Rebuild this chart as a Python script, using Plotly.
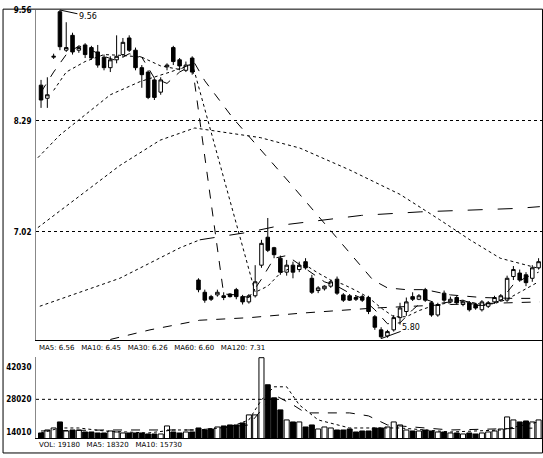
import plotly.graph_objects as go

# ---------------- data ----------------
opens = [8.70,8.55,9.02,9.54,9.10,9.27,9.10,9.16,9.13,9.08,
         9.02,8.90,8.99,9.05,9.24,9.10,8.90,8.85,8.76,8.62,
         8.91,9.13,8.99,8.87,9.01,
         6.47,6.33,6.28,6.30,6.29,6.31,6.36,6.28,6.22,6.29,
         6.64,6.96,6.84,6.72,6.56,6.64,6.59,6.68,6.49,6.35,
         6.37,6.40,6.48,6.30,6.29,6.27,6.28,6.27,6.05,5.90,
         5.83,5.90,6.04,6.11,6.28,6.25,6.36,6.21,6.07,6.32,
         6.22,6.27,6.19,6.21,6.19,6.13,6.17,6.22,6.24,6.24,
         6.51,6.55,6.53,6.49,6.61]
closes = [8.53,8.59,9.03,9.14,9.13,9.08,9.13,9.05,9.01,8.93,
          8.90,8.99,9.03,9.19,9.10,8.90,8.82,8.56,8.56,8.76,
          8.93,8.97,8.92,8.93,8.85,
          6.36,6.24,6.25,6.33,6.27,6.28,6.28,6.22,6.29,6.45,
          6.89,6.81,6.76,6.56,6.64,6.56,6.64,6.61,6.33,6.38,
          6.40,6.45,6.32,6.24,6.24,6.25,6.24,6.11,5.93,5.82,
          5.88,6.04,6.15,6.22,6.25,6.29,6.24,6.07,6.19,6.24,
          6.25,6.21,6.22,6.13,6.15,6.22,6.21,6.27,6.29,6.49,
          6.59,6.47,6.44,6.61,6.68]
highs = [8.76,8.79,9.06,9.56,9.42,9.30,9.15,9.18,9.15,9.16,
         9.05,9.03,9.27,9.24,9.27,9.13,8.93,8.87,8.78,8.79,
         8.95,9.15,9.01,8.97,9.03,
         6.49,6.36,6.30,6.36,6.33,6.32,6.38,6.30,6.31,6.64,
         6.93,7.18,6.85,6.75,6.70,6.68,6.68,6.72,6.53,6.40,
         6.41,6.47,6.51,6.32,6.31,6.29,6.30,6.29,6.07,5.93,
         5.90,6.07,6.21,6.27,6.33,6.31,6.38,6.23,6.21,6.35,
         6.28,6.29,6.24,6.23,6.21,6.24,6.23,6.29,6.31,6.52,
         6.63,6.59,6.56,6.64,6.72]
lows = [8.44,8.44,9.00,9.10,9.08,9.05,9.07,9.01,8.99,8.90,
        8.87,8.85,8.95,9.02,9.08,8.87,8.67,8.54,8.53,8.59,
        8.87,8.93,8.87,8.85,8.82,
        6.33,6.21,6.23,6.28,6.24,6.27,6.25,6.19,6.20,6.27,
        6.61,6.79,6.72,6.53,6.52,6.49,6.56,6.59,6.31,6.32,
        6.35,6.38,6.30,6.22,6.23,6.23,6.22,6.08,5.90,5.80,
        5.81,5.88,5.96,6.06,6.23,6.24,6.22,6.05,6.05,6.22,
        6.21,6.19,6.17,6.11,6.13,6.11,6.15,6.20,6.22,6.22,
        6.47,6.45,6.40,6.45,6.59]
volumes = [13580,14870,15730,18320,14440,14870,14870,14010,14010,13580,
           13580,14440,14010,13580,13580,13580,13580,13150,13150,13150,
           16600,14010,13580,14010,14010,
           15730,14870,15300,16160,16600,17030,17030,17890,21340,21340,
           45900,34270,28660,23490,19180,18320,18320,16160,17030,15300,
           16160,15730,14870,14870,15300,14010,14440,14440,15730,15730,
           16160,18320,17030,14870,14440,14440,14870,14440,14010,14010,
           13580,13580,13150,13580,13150,13580,14010,14440,15300,20470,
           19180,18320,18750,18320,19180]
days = list(range(len(closes)))

ma5_x = [0,2,4,6,8,10,12,14,16,18,20,22,24,29,31,33,35,37,39,41,43,45,47,49,51,53,55,57,59,61,63,65,67,69,71,73,75,77,79]
ma5_y = [8.62,8.85,9.05,9.15,9.10,9.03,8.98,9.06,9.02,8.78,8.72,8.85,8.93,6.31,6.30,6.27,6.48,6.72,6.75,6.65,
         6.55,6.45,6.40,6.32,6.26,6.13,5.97,5.98,6.13,6.25,6.20,6.22,6.24,6.18,6.18,6.24,6.42,6.50,6.56]
ma10_x = [2,4,7,10,13,16,19,22,24,34,36,38,40,42,44,46,48,50,52,54,56,58,60,62,64,66,68,70,72,74,76,79]
ma10_y = [8.64,8.85,8.97,9.05,9.04,9.02,8.92,8.88,8.95,6.33,6.40,6.55,6.62,6.64,6.55,6.47,6.42,6.35,6.27,6.15,
          6.05,6.05,6.12,6.17,6.20,6.22,6.22,6.19,6.20,6.25,6.33,6.45]
ma30a_x = [-0.5,3,7,11,15.7,20.5,24.4]
ma30a_y = [7.87,8.13,8.36,8.59,8.74,8.85,8.95]
ma30b_x = [24.4,26,30.5,40,52.7,55,58,61,65,70,75,79]
ma30b_y = [8.95,8.75,8.32,7.54,6.47,6.38,6.36,6.36,6.30,6.27,6.26,6.26]
ma60_x = [-0.5,6.2,12.5,18.9,24.4,34.8,41.1,49,57,63.3,68.1,72.9,76,79.2]
ma60_y = [7.07,7.44,7.78,8.07,8.21,8.10,7.98,7.73,7.45,7.16,6.93,6.72,6.66,6.60]
ma120a_x = [-0.2,12.5,22.1,25.2]
ma120a_y = [6.17,6.49,6.84,6.93]
ma120b_x = [25.2,33.2,38.4,47.8,50.9,60.2,66.8,75.7,79.2]
ma120b_y = [6.93,7.02,7.10,7.18,7.21,7.25,7.27,7.29,7.31]
ma250_x = [11,17.3,25.2,33.2,41.1,53,65,79.2]
ma250_y = [5.79,5.90,6.01,6.04,6.09,6.15,6.19,6.22]

vma5_x = [0,3,6,10,17,21,25,30,33,35,37,39,41,44,49,57,65,73,79]
vma5_y = [13580,15730,15730,14440,13580,14870,14870,16160,19180,27800,33400,33400,25650,19180,15730,15730,14010,14870,18320]
vma10_x = [0,10,25,33,37,40,42,49,52,55,65,79]
vma10_y = [14440,14870,14870,17030,29960,25650,22200,22200,20910,17030,14870,15730]

price_ticks = [9.56, 8.29, 7.02]
price_tick_text = ["9.56", "8.29", "7.02"]
vol_ticks = [42030, 28020, 14010]
vol_tick_text = ["42030", "28020", "14010"]

# ---------------- figure ----------------
FONT = dict(family="DejaVu Sans", size=8, color="black")
TICKFONT = dict(family="DejaVu Sans Condensed", size=8, color="black", weight="bold")
fig = go.Figure()

fig.add_trace(go.Candlestick(
    x=days, open=opens, high=highs, low=lows, close=closes,
    increasing=dict(line=dict(color="black", width=1), fillcolor="white"),
    decreasing=dict(line=dict(color="black", width=1), fillcolor="black"),
    whiskerwidth=0, xaxis="x", yaxis="y", hoverinfo="skip"))

def line(xs, ys, dash, xa="x", ya="y"):
    fig.add_trace(go.Scatter(x=xs, y=ys, mode="lines", xaxis=xa, yaxis=ya,
                             line=dict(color="black", width=1, dash=dash),
                             hoverinfo="skip"))

line(ma5_x, ma5_y, "dash")
line(ma10_x, ma10_y, "dot")
line(ma30a_x, ma30a_y, "dot")
line(ma30b_x, ma30b_y, "dash")
line(ma60_x, ma60_y, "dot")
line(ma120a_x, ma120a_y, "dot")
line(ma120b_x, ma120b_y, "longdash")
line(ma250_x, ma250_y, "dash")

bar_fill = ["white" if c >= o else "black" for o, c in zip(opens, closes)]
fig.add_trace(go.Bar(x=days, y=volumes, xaxis="x2", yaxis="y2",
                     marker=dict(color=bar_fill, line=dict(color="black", width=1)),
                     width=0.8, hoverinfo="skip"))
line(vma5_x, vma5_y, "dot", "x2", "y2")
line(vma10_x, vma10_y, "dash", "x2", "y2")

xr = [-0.8, 79.7]
fig.update_layout(
    width=543, height=458,
    margin=dict(l=36, r=0, t=10, b=20, autoexpand=False),
    paper_bgcolor="white", plot_bgcolor="white",
    showlegend=False, boxgap=0.2, bargap=0.2,
    font=FONT,
    xaxis=dict(domain=[0, 1], range=xr, anchor="y", showticklabels=False,
               showgrid=False, zeroline=False, showline=True, linecolor="black",
               linewidth=1, ticks="", rangeslider=dict(visible=False), automargin=False),
    yaxis=dict(domain=[0.229, 1.0], range=[5.784, 9.56], tickvals=price_ticks,
               ticktext=price_tick_text, showgrid=True, gridcolor="black",
               griddash="dot", gridwidth=1, zeroline=False, showline=True,
               linecolor="#888888", linewidth=1, ticks="", tickfont=TICKFONT,
               ticklabelstandoff=2, automargin=False),
    xaxis2=dict(domain=[0, 1], range=xr, anchor="y2", matches="x",
                showticklabels=False, showgrid=False, zeroline=False,
                showline=True, linecolor="black", linewidth=1, ticks="", automargin=False),
    yaxis2=dict(domain=[0.0, 0.19], range=[11424, 46335], tickvals=vol_ticks,
                ticktext=vol_tick_text, showgrid=False, zeroline=False,
                showline=True, linecolor="#888888", linewidth=1, ticks="",
                tickfont=TICKFONT, ticklabelstandoff=2, automargin=False),
)

# dotted volume grid line
fig.add_shape(type="line", xref="paper", yref="y2", x0=0, x1=1, y0=28020, y1=28020,
              line=dict(color="black", width=1, dash="dot"))
# outer frame
fig.add_shape(type="rect", xref="paper", yref="paper", x0=-0.065, x1=0.999,
              y0=-0.035, y1=1.002, line=dict(color="black", width=1))

# high / low markers
hi_i = max(days, key=lambda i: highs[i])
lo_i = min(days, key=lambda i: lows[i])
fig.add_annotation(x=hi_i, y=highs[hi_i], xref="x", yref="y", text=f"{highs[hi_i]:.2f}",
                   showarrow=True, arrowhead=0, arrowwidth=1, arrowcolor="black",
                   ax=28, ay=6, font=FONT)
fig.add_annotation(x=lo_i, y=lows[lo_i], xref="x", yref="y", text=f"{lows[lo_i]:.2f}",
                   showarrow=True, arrowhead=0, arrowwidth=1, arrowcolor="black",
                   ax=30, ay=-11, font=FONT)

# info lines
ma_text = (f"MA5: {ma5_y[-1]:.2f}   MA10: {ma10_y[-1]:.2f}   MA30: {ma30b_y[-1]:.2f}"
           f"   MA60: {ma60_y[-1]:.2f}   MA120: {ma120b_y[-1]:.2f}")
fig.add_annotation(x=0.002, y=0.210, xref="paper", yref="paper", text=ma_text,
                   showarrow=False, xanchor="left", yanchor="middle",
                   font=dict(family="DejaVu Sans", size=7, color="black"))
vol_text = f"VOL: {volumes[-1]}   MA5: {vma5_y[-1]}   MA10: {vma10_y[-1]}"
fig.add_annotation(x=0.002, y=-0.017, xref="paper", yref="paper", text=vol_text,
                   showarrow=False, xanchor="left", yanchor="middle",
                   font=dict(family="DejaVu Sans", size=7, color="black"))

fig.write_html("out.html", config={"displayModeBar": False},
               post_script="document.body.style.margin='0';document.body.style.overflow='hidden';")
